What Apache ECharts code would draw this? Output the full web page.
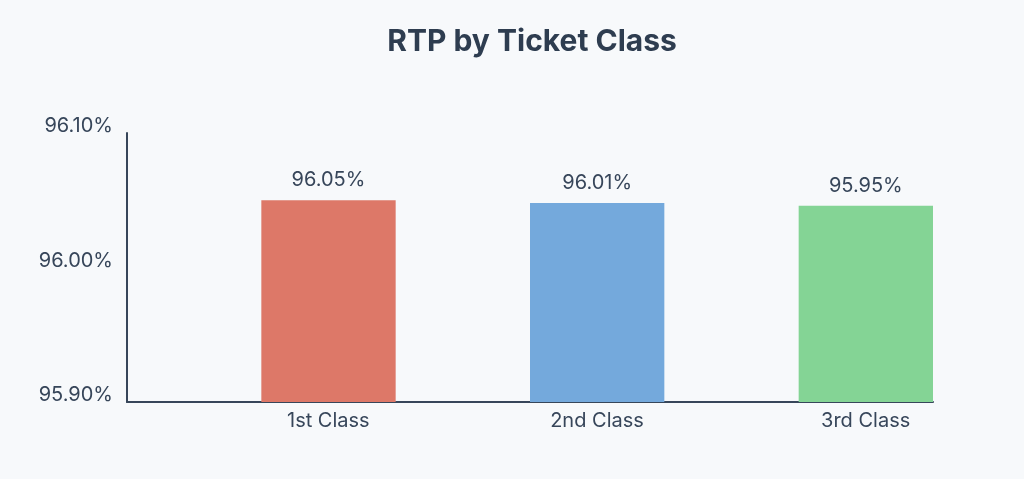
<!DOCTYPE html>
<html>
<head>
<meta charset="utf-8">
<script src="https://cdn.jsdelivr.net/npm/echarts@6/dist/echarts.min.js"></script>
<style>
  html, body { margin: 0; padding: 0; background: #f7f9fb; }
  #main { width: 1024px; height: 479px; }
</style>
</head>
<body>
<div id="main"></div>
<script>
// data
var classes = ['1st Class', '2nd Class', '3rd Class'];
var rtpValues = [96.05, 96.048, 96.046];
var rtpLabels = ['96.05%', '96.01%', '95.95%'];
var barColors = ['#dd7868', '#74a9dc', '#84d495'];
var yTicks = [95.9, 96.0, 96.1];

var chart = echarts.init(document.getElementById('main'));

var option = {
    backgroundColor: '#f7f9fb',
    textStyle: { fontFamily: 'Inter' },
    title: {
        text: 'RTP by Ticket Class',
        left: 527,
        top: 22,
        textAlign: 'center',
        textStyle: { fontSize: 30, fontWeight: 'bold', color: '#2e3d50', fontFamily: 'Inter' }
    },
    grid: { left: 127, right: 91, top: 133, bottom: 77 },
    xAxis: {
        type: 'category',
        data: classes,
        axisLine: { lineStyle: { color: '#37465a', width: 2 } },
        axisTick: { show: false },
        axisLabel: {
            color: '#37465a',
            fontSize: 20,
            margin: 9,
            padding: [0, 0, 0, 134]
        }
    },
    yAxis: {
        type: 'value',
        min: yTicks[0],
        max: yTicks[yTicks.length - 1],
        interval: 0.1,
        splitLine: { show: false },
        axisLine: { show: true, lineStyle: { color: '#37465a', width: 2 } },
        axisTick: { show: false },
        axisLabel: {
            color: '#37465a',
            fontSize: 20,
            margin: 14,
            verticalAlign: 'bottom',
            lineHeight: 14,
            formatter: function (v) { return v.toFixed(2) + '%'; }
        }
    },
    series: [
        {
            // empty slot so the bars sit in the right half of each category
            type: 'bar',
            data: ['-', '-', '-'],
            barGap: '0%',
            barCategoryGap: '0%'
        },
        {
            type: 'bar',
            barGap: '0%',
            barCategoryGap: '0%',
            data: rtpValues.map(function (v, i) {
                return { value: v, itemStyle: { color: barColors[i] } };
            }),
            label: {
                show: true,
                position: 'top',
                distance: 10,
                fontSize: 20,
                color: '#37465a',
                formatter: function (p) { return rtpLabels[p.dataIndex]; }
            }
        }
    ]
};

chart.setOption(option);
</script>
</body>
</html>
